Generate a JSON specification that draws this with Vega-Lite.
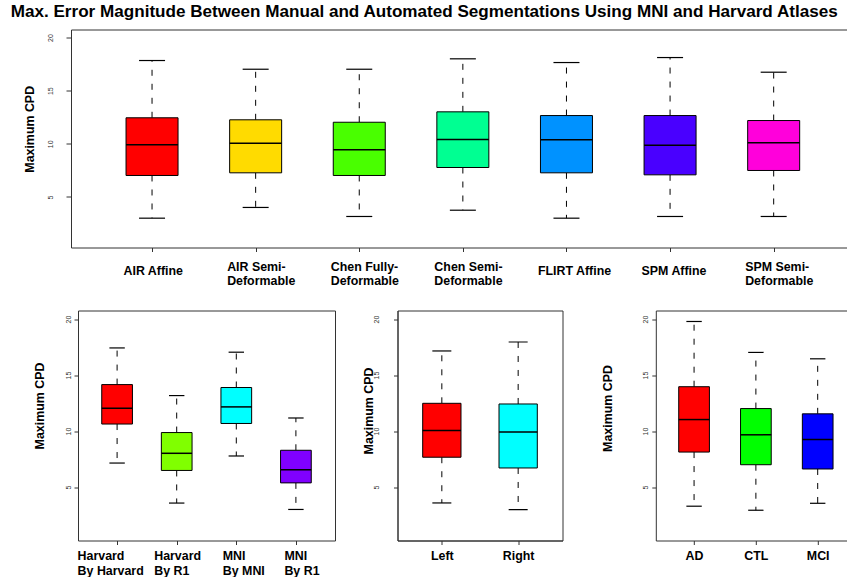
{
  "$schema": "https://vega.github.io/schema/vega-lite/v6.json",
  "padding": {"left": 10, "top": 2.5, "right": 0, "bottom": 0},
  "background": "white",
  "title": {
    "text": "Max. Error Magnitude Between Manual and Automated Segmentations Using MNI and Harvard Atlases",
    "font": "Liberation Sans",
    "fontSize": 17.1,
    "fontWeight": "bold",
    "color": "black",
    "anchor": "middle",
    "offset": 9,
    "dx": -10.8
  },
  "config": {
    "font": "Liberation Sans",
    "view": {"stroke": "#333", "strokeWidth": 1},
    "axis": {
      "grid": false,
      "domainColor": "#333",
      "domainWidth": 1,
      "tickColor": "#333",
      "tickWidth": 1,
      "labelFont": "Liberation Sans",
      "titleFont": "Liberation Sans"
    }
  },
  "datasets": {
    "methods": [
      {"method": "AIR Affine", "lower": 3.0, "q1": 7.02, "median": 9.9, "q3": 12.45, "upper": 17.84},
      {"method": "AIR Semi-Deformable", "lower": 4.01, "q1": 7.27, "median": 10.06, "q3": 12.26, "upper": 17.02},
      {"method": "Chen Fully-Deformable", "lower": 3.16, "q1": 7.02, "median": 9.44, "q3": 12.03, "upper": 17.02},
      {"method": "Chen Semi-Deformable", "lower": 3.75, "q1": 7.77, "median": 10.4, "q3": 13.01, "upper": 18.0},
      {"method": "FLIRT Affine", "lower": 3.0, "q1": 7.27, "median": 10.38, "q3": 12.66, "upper": 17.65},
      {"method": "SPM Affine", "lower": 3.16, "q1": 7.08, "median": 9.87, "q3": 12.66, "upper": 18.12},
      {"method": "SPM Semi-Deformable", "lower": 3.16, "q1": 7.49, "median": 10.09, "q3": 12.19, "upper": 16.74}
    ],
    "atlases": [
      {"atlas": "Harvard By Harvard", "lower": 7.15, "q1": 10.63, "median": 12.03, "q3": 14.15, "upper": 17.42},
      {"atlas": "Harvard By R1", "lower": 3.58, "q1": 6.49, "median": 8.02, "q3": 9.87, "upper": 13.17},
      {"atlas": "MNI By MNI", "lower": 7.78, "q1": 10.68, "median": 12.16, "q3": 13.89, "upper": 17.04},
      {"atlas": "MNI By R1", "lower": 3.01, "q1": 5.38, "median": 6.55, "q3": 8.29, "upper": 11.17}
    ],
    "hemispheres": [
      {"side": "Left", "lower": 3.59, "q1": 7.67, "median": 10.05, "q3": 12.48, "upper": 17.15},
      {"side": "Right", "lower": 3.0, "q1": 6.71, "median": 9.91, "q3": 12.42, "upper": 17.95}
    ],
    "diagnoses": [
      {"dx": "AD", "lower": 3.3, "q1": 8.13, "median": 11.03, "q3": 13.96, "upper": 19.78},
      {"dx": "CTL", "lower": 2.94, "q1": 7.0, "median": 9.67, "q3": 12.01, "upper": 17.02},
      {"dx": "MCI", "lower": 3.56, "q1": 6.62, "median": 9.25, "q3": 11.54, "upper": 16.45}
    ]
  },
  "spacing": 22,
  "resolve": {"scale": {"x": "independent", "y": "independent", "color": "independent"}},
  "vconcat": [
    {
      "width": 776,
      "height": 218,
      "data": {"name": "methods"},
      "view": {"stroke": null},
      "resolve": {"axis": {"x": "independent", "y": "independent"}},
      "layer": [
        {
          "mark": {"type": "rule", "color": "black", "strokeWidth": 1, "strokeDash": [6, 8]},
          "encoding": {
            "x": {
              "field": "method", "type": "nominal", "sort": null,
              "scale": {"type": "point", "padding": 0.745, "align": 0.525},
              "axis": {
                "orient": "bottom", "title": null, "labelAngle": 0,
                "tickSize": 4, "labelAlign": "left", "labelOffset": -29, "labelBaseline": "top",
                "labelPadding": {"condition": {"test": "indexof(datum.value, '-') < 0", "value": 13}, "value": 8.5},
                "labelFontSize": 12.4, "labelFontWeight": "bold", "labelColor": "black", "labelLineHeight": 14.5,
                "labelLimit": 300,
                "labelExpr": "indexof(datum.label, '-') >= 0 ? [slice(datum.label, 0, indexof(datum.label, '-') + 1), slice(datum.label, indexof(datum.label, '-') + 1)] : datum.label"
              }
            },
            "y": {
              "field": "q3", "type": "quantitative",
              "scale": {"domain": [0.24, 20.76], "nice": false, "zero": false},
              "axis": {
                "orient": "left", "values": [5, 10, 15, 20], "title": "Maximum CPD",
                "titleFontSize": 12.4, "titleFontWeight": "bold", "titleColor": "black",
                "titleX": -35, "titleY": 99.3, "titleAngle": 270, "titleAlign": "center", "titleBaseline": "bottom",
                "labelAngle": 270, "labelAlign": "center", "labelBaseline": "bottom",
                "labelFontSize": 7, "labelColor": "#333", "tickSize": 5, "labelPadding": 12.7
              }
            },
            "y2": {"field": "upper"}
          }
        },
        {
          "mark": {"type": "rule", "color": "black", "strokeWidth": 1, "strokeDash": [6, 8]},
          "encoding": {
            "x": {"field": "method", "type": "nominal", "sort": null,
                  "axis": {"orient": "top", "labels": false, "ticks": false, "domain": true, "title": null}},
            "y": {"field": "q1", "type": "quantitative", "axis": null},
            "y2": {"field": "lower"}
          }
        },
        {
          "mark": {"type": "bar", "size": 52, "stroke": "black", "strokeWidth": 1},
          "encoding": {
            "x": {"field": "method", "type": "nominal", "sort": null, "axis": null},
            "y": {"field": "q1", "type": "quantitative", "axis": null},
            "y2": {"field": "q3"},
            "color": {"field": "method", "type": "nominal", "sort": null, "legend": null,
                      "scale": {"range": ["#FF0000", "#FFDB00", "#49FF00", "#00FF92", "#0092FF", "#4900FF", "#FF00DB"]}}
          }
        },
        {
          "mark": {"type": "tick", "orient": "horizontal", "size": 26, "thickness": 1.2, "color": "black", "opacity": 1},
          "encoding": {
            "x": {"field": "method", "type": "nominal", "sort": null, "axis": null},
            "y": {"field": "upper", "type": "quantitative", "axis": null}
          }
        },
        {
          "mark": {"type": "tick", "orient": "horizontal", "size": 26, "thickness": 1.2, "color": "black", "opacity": 1},
          "encoding": {
            "x": {"field": "method", "type": "nominal", "sort": null, "axis": null},
            "y": {"field": "lower", "type": "quantitative", "axis": null}
          }
        },
        {
          "mark": {"type": "tick", "orient": "horizontal", "size": 52, "thickness": 1.5, "color": "black", "opacity": 1},
          "encoding": {
            "x": {"field": "method", "type": "nominal", "sort": null, "axis": null},
            "y": {"field": "median", "type": "quantitative", "axis": null}
          }
        }
      ]
    },
    {
      "spacing": 38.8,
      "resolve": {"scale": {"x": "independent", "y": "independent", "color": "independent"}},
      "hconcat": [
        {
          "spacing": 26.5,
          "resolve": {"scale": {"x": "independent", "y": "independent", "color": "independent"}},
          "hconcat": [
            {
              "width": 264,
              "height": 230,
              "data": {"name": "atlases"},
              "view": {"stroke": null},
              "resolve": {"axis": {"x": "independent", "y": "independent"}},
              "layer": [
                {
                  "mark": {"type": "rule", "color": "black", "strokeWidth": 1, "strokeDash": [6, 8]},
                  "encoding": {
                    "x": {
                      "field": "atlas", "type": "nominal", "sort": null,
                      "scale": {"type": "point", "padding": 0.656, "align": 0.5, "range": [7, 264]},
                      "axis": {
                        "orient": "bottom", "title": null, "labelAngle": 0,
                        "tickSize": 4, "labelAlign": "left", "labelBaseline": "top", "labelPadding": 4.6,
                        "labelOffset": {"condition": [
                          {"test": "datum.value === 'Harvard By Harvard'", "value": -40},
                          {"test": "datum.value === 'Harvard By R1'", "value": -23},
                          {"test": "datum.value === 'MNI By MNI'", "value": -14}
                        ], "value": -12},
                        "labelFontSize": 12.4, "labelFontWeight": "bold", "labelColor": "black", "labelLineHeight": 15,
                        "labelLimit": 300,
                        "labelExpr": "[slice(datum.label, 0, indexof(datum.label, ' ')), slice(datum.label, indexof(datum.label, ' ') + 1)]"
                      }
                    },
                    "y": {
                      "field": "q3", "type": "quantitative",
                      "scale": {"domain": [0.24, 20.76], "nice": false, "zero": false},
                      "axis": {
                        "orient": "left", "offset": -7, "values": [5, 10, 15, 20], "title": "Maximum CPD",
                        "titleFontSize": 12.4, "titleFontWeight": "bold", "titleColor": "black",
                        "titleX": -32, "titleY": 95, "titleAngle": 270, "titleAlign": "center", "titleBaseline": "bottom",
                        "labelAngle": 270, "labelAlign": "center", "labelBaseline": "bottom",
                        "labelFontSize": 7, "labelColor": "#333", "tickSize": 4, "labelPadding": 3
                      }
                    },
                    "y2": {"field": "upper"}
                  }
                },
                {
                  "mark": {"type": "rule", "color": "black", "strokeWidth": 1, "strokeDash": [6, 8]},
                  "encoding": {
                    "x": {"field": "atlas", "type": "nominal", "sort": null,
                          "axis": {"orient": "top", "labels": false, "ticks": false, "domain": true, "title": null}},
                    "y": {"field": "q1", "type": "quantitative",
                          "axis": {"orient": "right", "labels": false, "ticks": false, "domain": true, "title": null, "minExtent": 0, "maxExtent": 0}},
                    "y2": {"field": "lower"}
                  }
                },
                {
                  "mark": {"type": "bar", "size": 30.7, "stroke": "black", "strokeWidth": 1},
                  "encoding": {
                    "x": {"field": "atlas", "type": "nominal", "sort": null, "axis": null},
                    "y": {"field": "q1", "type": "quantitative", "axis": null},
                    "y2": {"field": "q3"},
                    "color": {"field": "atlas", "type": "nominal", "sort": null, "legend": null,
                              "scale": {"range": ["#FF0000", "#80FF00", "#00FFFF", "#8000FF"]}}
                  }
                },
                {
                  "mark": {"type": "tick", "orient": "horizontal", "size": 15.4, "thickness": 1.2, "color": "black", "opacity": 1},
                  "encoding": {
                    "x": {"field": "atlas", "type": "nominal", "sort": null, "axis": null},
                    "y": {"field": "upper", "type": "quantitative", "axis": null}
                  }
                },
                {
                  "mark": {"type": "tick", "orient": "horizontal", "size": 15.4, "thickness": 1.2, "color": "black", "opacity": 1},
                  "encoding": {
                    "x": {"field": "atlas", "type": "nominal", "sort": null, "axis": null},
                    "y": {"field": "lower", "type": "quantitative", "axis": null}
                  }
                },
                {
                  "mark": {"type": "tick", "orient": "horizontal", "size": 30.7, "thickness": 1.5, "color": "black", "opacity": 1},
                  "encoding": {
                    "x": {"field": "atlas", "type": "nominal", "sort": null, "axis": null},
                    "y": {"field": "median", "type": "quantitative", "axis": null}
                  }
                }
              ]
            },
            {
              "width": 165,
              "height": 230,
              "data": {"name": "hemispheres"},
              "resolve": {"axis": {"x": "independent", "y": "independent"}},
              "layer": [
                {
                  "mark": {"type": "rule", "color": "black", "strokeWidth": 1, "strokeDash": [6, 8]},
                  "encoding": {
                    "x": {
                      "field": "side", "type": "nominal", "sort": null,
                      "scale": {"type": "point", "padding": 0.581, "align": 0.5},
                      "axis": {
                        "orient": "bottom", "title": null, "labelAngle": 0,
                        "tickSize": 4, "labelAlign": "center", "labelBaseline": "top", "labelPadding": 4.6,
                        "labelFontSize": 12.4, "labelFontWeight": "bold", "labelColor": "black"
                      }
                    },
                    "y": {
                      "field": "q3", "type": "quantitative",
                      "scale": {"domain": [0.24, 20.76], "nice": false, "zero": false},
                      "axis": {
                        "orient": "left", "values": [5, 10, 15, 20], "title": "Maximum CPD",
                        "titleFontSize": 12.4, "titleFontWeight": "bold", "titleColor": "black",
                        "titleX": -22, "titleY": 100, "titleAngle": 270, "titleAlign": "center", "titleBaseline": "bottom",
                        "labelAngle": 270, "labelAlign": "center", "labelBaseline": "bottom",
                        "labelFontSize": 7, "labelColor": "#333", "tickSize": 4, "labelPadding": 13.7
                      }
                    },
                    "y2": {"field": "upper"}
                  }
                },
                {
                  "mark": {"type": "rule", "color": "black", "strokeWidth": 1, "strokeDash": [6, 8]},
                  "encoding": {
                    "x": {"field": "side", "type": "nominal", "sort": null, "axis": null},
                    "y": {"field": "q1", "type": "quantitative", "axis": null},
                    "y2": {"field": "lower"}
                  }
                },
                {
                  "mark": {"type": "bar", "size": 38.3, "stroke": "black", "strokeWidth": 1},
                  "encoding": {
                    "x": {"field": "side", "type": "nominal", "sort": null, "axis": null},
                    "y": {"field": "q1", "type": "quantitative", "axis": null},
                    "y2": {"field": "q3"},
                    "color": {"field": "side", "type": "nominal", "sort": null, "legend": null,
                              "scale": {"range": ["#FF0000", "#00FFFF"]}}
                  }
                },
                {
                  "mark": {"type": "tick", "orient": "horizontal", "size": 19, "thickness": 1.2, "color": "black", "opacity": 1},
                  "encoding": {
                    "x": {"field": "side", "type": "nominal", "sort": null, "axis": null},
                    "y": {"field": "upper", "type": "quantitative", "axis": null}
                  }
                },
                {
                  "mark": {"type": "tick", "orient": "horizontal", "size": 19, "thickness": 1.2, "color": "black", "opacity": 1},
                  "encoding": {
                    "x": {"field": "side", "type": "nominal", "sort": null, "axis": null},
                    "y": {"field": "lower", "type": "quantitative", "axis": null}
                  }
                },
                {
                  "mark": {"type": "tick", "orient": "horizontal", "size": 38.3, "thickness": 1.5, "color": "black", "opacity": 1},
                  "encoding": {
                    "x": {"field": "side", "type": "nominal", "sort": null, "axis": null},
                    "y": {"field": "median", "type": "quantitative", "axis": null}
                  }
                }
              ]
            }
          ]
        },
        {
          "width": 191,
          "height": 230,
          "data": {"name": "diagnoses"},
          "view": {"stroke": null},
          "resolve": {"axis": {"x": "independent", "y": "independent"}},
          "layer": [
            {
              "mark": {"type": "rule", "color": "black", "strokeWidth": 1, "strokeDash": [6, 8]},
              "encoding": {
                "x": {
                  "field": "dx", "type": "nominal", "sort": null,
                  "scale": {"type": "point", "padding": 0.545, "align": 0.568},
                  "axis": {
                    "orient": "bottom", "title": null, "labelAngle": 0,
                    "tickSize": 4, "labelAlign": "center", "labelBaseline": "top", "labelPadding": 4.6,
                    "labelFontSize": 12.4, "labelFontWeight": "bold", "labelColor": "black"
                  }
                },
                "y": {
                  "field": "q3", "type": "quantitative",
                  "scale": {"domain": [0.24, 20.76], "nice": false, "zero": false},
                  "axis": {
                    "orient": "left", "values": [5, 10, 15, 20], "title": "Maximum CPD",
                    "titleFontSize": 12.4, "titleFontWeight": "bold", "titleColor": "black",
                    "titleX": -41, "titleY": 97.5, "titleAngle": 270, "titleAlign": "center", "titleBaseline": "bottom",
                    "labelAngle": 270, "labelAlign": "center", "labelBaseline": "bottom",
                    "labelFontSize": 7, "labelColor": "#333", "tickSize": 4, "labelPadding": 3
                  }
                },
                "y2": {"field": "upper"}
              }
            },
            {
              "mark": {"type": "rule", "color": "black", "strokeWidth": 1, "strokeDash": [6, 8]},
              "encoding": {
                "x": {"field": "dx", "type": "nominal", "sort": null,
                      "axis": {"orient": "top", "labels": false, "ticks": false, "domain": true, "title": null}},
                "y": {"field": "q1", "type": "quantitative", "axis": null},
                "y2": {"field": "lower"}
              }
            },
            {
              "mark": {"type": "bar", "size": 30.7, "stroke": "black", "strokeWidth": 1},
              "encoding": {
                "x": {"field": "dx", "type": "nominal", "sort": null, "axis": null},
                "y": {"field": "q1", "type": "quantitative", "axis": null},
                "y2": {"field": "q3"},
                "color": {"field": "dx", "type": "nominal", "sort": null, "legend": null,
                          "scale": {"range": ["#FF0000", "#00FF00", "#0000FF"]}}
              }
            },
            {
              "mark": {"type": "tick", "orient": "horizontal", "size": 15.4, "thickness": 1.2, "color": "black", "opacity": 1},
              "encoding": {
                "x": {"field": "dx", "type": "nominal", "sort": null, "axis": null},
                "y": {"field": "upper", "type": "quantitative", "axis": null}
              }
            },
            {
              "mark": {"type": "tick", "orient": "horizontal", "size": 15.4, "thickness": 1.2, "color": "black", "opacity": 1},
              "encoding": {
                "x": {"field": "dx", "type": "nominal", "sort": null, "axis": null},
                "y": {"field": "lower", "type": "quantitative", "axis": null}
              }
            },
            {
              "mark": {"type": "tick", "orient": "horizontal", "size": 30.7, "thickness": 1.5, "color": "black", "opacity": 1},
              "encoding": {
                "x": {"field": "dx", "type": "nominal", "sort": null, "axis": null},
                "y": {"field": "median", "type": "quantitative", "axis": null}
              }
            }
          ]
        }
      ]
    }
  ]
}
